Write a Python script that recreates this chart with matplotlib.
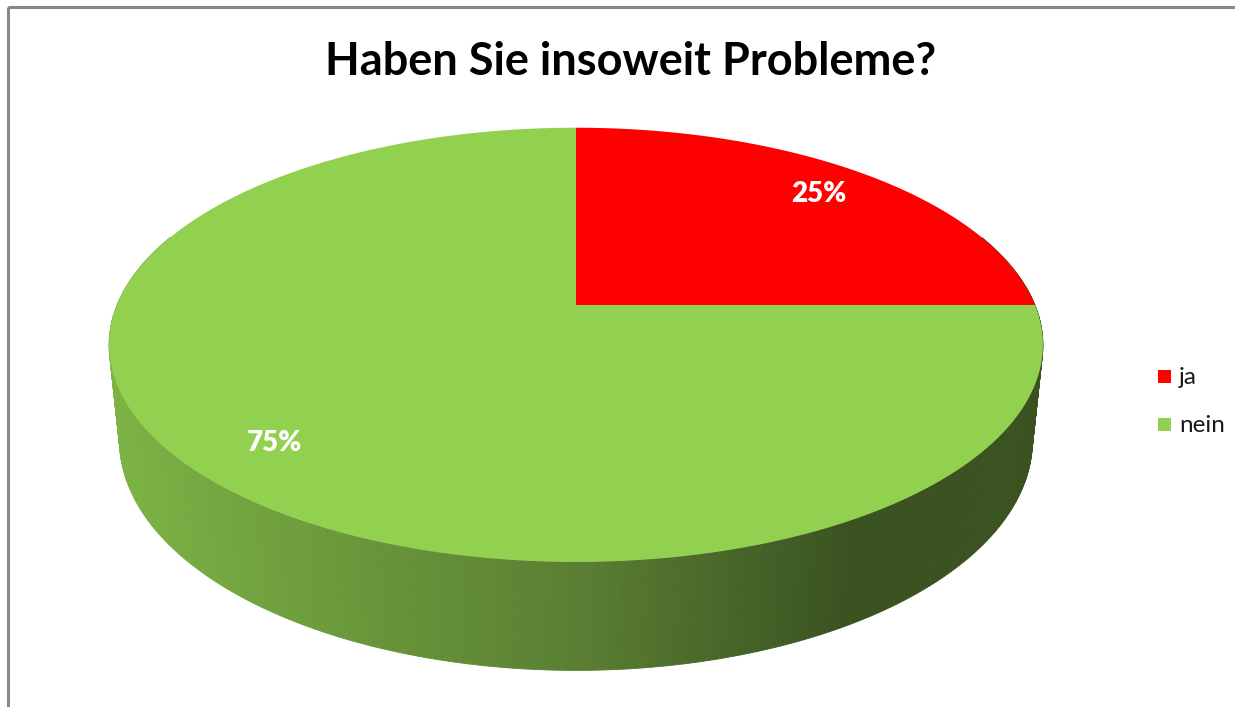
"""3D-Tortendiagramm: Haben Sie insoweit Probleme?"""

import matplotlib
matplotlib.use("Agg")
import matplotlib.pyplot as plt
import numpy as np
from matplotlib.patches import Polygon, Rectangle
from matplotlib.colors import to_rgb

# --- data ---
labels = ["ja", "nein"]
values = [25, 75]
slice_colors = ["#FF0000", "#92D050"]
title = "Haben Sie insoweit Probleme?"

# --- simple perspective camera (pixel space) ---
CX, CY = 576, 305          # projected pie centre
FOCAL = 2226.0
DIST = 4.85
TILT = np.radians(27.2)
HEIGHT = 0.237             # thickness of the pie (unit radius)
LABEL_R = 0.83


def project(u, v, w=0.0):
    """u: right, v: away from viewer, w: up -> pixel coords."""
    s, c = np.sin(TILT), np.cos(TILT)
    yy = v * s + w * c
    zz = DIST + v * c - w * s
    return CX + FOCAL * u / zz, CY - FOCAL * yy / zz


def side_color(px):
    # horizontal shading of the wall, light on the left, dark on the right
    stops_x = [110, 330, 576, 850, 1045]
    stops_c = [to_rgb("#7DB445"), to_rgb("#6C9A3B"), to_rgb("#5A7F33"),
               to_rgb("#3A5220"), to_rgb("#3A5220")]
    return tuple(np.interp(px, stops_x, [c[i] for c in stops_c]) for i in range(3))


fig = plt.figure(figsize=(12.35, 7.07), dpi=100)
ax = fig.add_axes([0, 0, 1, 1])
ax.set_xlim(0, 1235)
ax.set_ylim(707, 0)
ax.axis("off")

# frame
ax.add_patch(Rectangle((8, 7), 1240, 720, fill=False, edgecolor="#878787", lw=2.2))

# wall (front half)
thetas = np.radians(np.linspace(160, 380, 400))
for t0, t1 in zip(thetas[:-1], thetas[1:]):
    pts = []
    for t in (t0, t1):
        pts.append(project(np.cos(t), np.sin(t), 0.0))
    for t in (t1, t0):
        pts.append(project(np.cos(t), np.sin(t), -HEIGHT))
    xm = np.mean([p[0] for p in pts])
    ax.add_patch(Polygon(pts, closed=True, facecolor=side_color(xm),
                         edgecolor=side_color(xm), lw=0.6, antialiased=True))

# top face slices, starting at 12 o'clock, clockwise
total = sum(values)
start = 90.0
for lab, val, col in zip(labels, values, slice_colors):
    sweep = 360.0 * val / total
    ang = np.radians(np.linspace(start, start - sweep, 300))
    pts = [project(0, 0)] + [project(np.cos(a), np.sin(a)) for a in ang]
    ax.add_patch(Polygon(pts, closed=True, facecolor=col, edgecolor="none"))
    mid = np.radians(start - sweep / 2)
    lx, ly = project(LABEL_R * np.cos(mid), LABEL_R * np.sin(mid))
    ax.text(lx, ly, f"{val}%", color="white", fontsize=20, fontweight="heavy",
            family="Lato", ha="center", va="center")
    start -= sweep

ax.text(631, 62, title, fontsize=32.5, fontweight="bold", family="Lato",
        ha="center", va="center", color="black")

# legend
for i, (lab, col) in enumerate(zip(labels, slice_colors)):
    y = 377 + i * 48
    ax.add_patch(Rectangle((1158, y - 7), 13, 13, facecolor=col, edgecolor="none"))
    ax.text(1179, y, lab, fontsize=17.5, family="Lato", ha="left", va="center",
            color="#1a1a1a")

fig.savefig("out.png", dpi=100)
